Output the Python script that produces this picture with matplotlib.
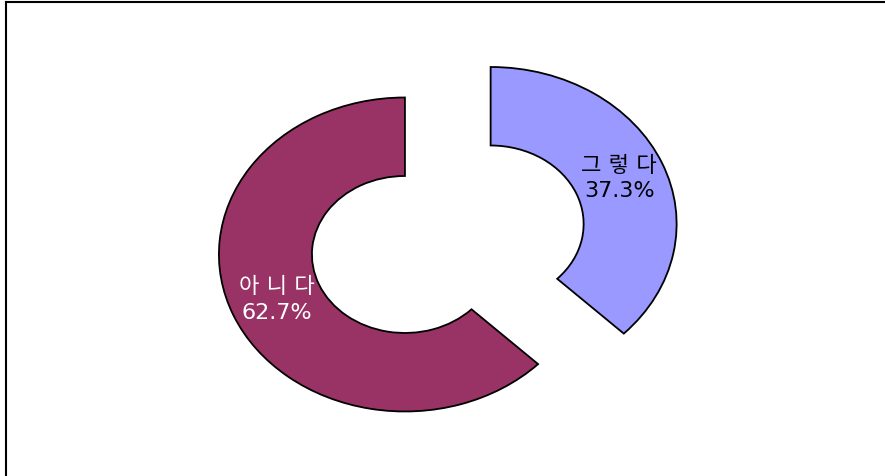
import matplotlib.pyplot as plt
from matplotlib.lines import Line2D

plt.rcParams['font.family'] = ['DejaVu Sans', 'Noto Sans CJK KR']

labels = ['그 렇 다', '아 니 다']
values = [37.3, 62.7]
colors = ['#9999FF', '#993366']
text_colors = ['black', 'white']
explode = [0.5, 0.0]

fig = plt.figure(figsize=(8.85, 4.76), dpi=100)
ax = fig.add_axes([0, 0, 1, 1])

wedges, texts = ax.pie(
    values,
    colors=colors,
    explode=explode,
    startangle=90,
    counterclock=False,
    radius=1.0,
    labels=[f'{n}\n{v:.1f}%' for n, v in zip(labels, values)],
    labeldistance=0.75,
    wedgeprops=dict(width=0.5, edgecolor='black', linewidth=1.3),
    textprops=dict(fontsize=16),
)
for t, c in zip(texts, text_colors):
    t.set_color(c)
    t.set_ha('center')
    t.set_va('center')
    t.set_linespacing(1.35)

# stretched doughnut, wider than tall
ax.set_aspect('auto')
ax.set_xlim(-2.177, 2.581)
ax.set_ylim(-1.411, 1.621)
ax.axis('off')

# frame lines along the top and left edges
fig.add_artist(Line2D([5.5 / 885, 1], [1 - 1.5 / 476, 1 - 1.5 / 476],
                      transform=fig.transFigure, color='black', lw=1.5))
fig.add_artist(Line2D([5.5 / 885, 5.5 / 885], [0, 1 - 1.5 / 476],
                      transform=fig.transFigure, color='black', lw=1.5))

fig.savefig('out.png', dpi=100, facecolor='white')
